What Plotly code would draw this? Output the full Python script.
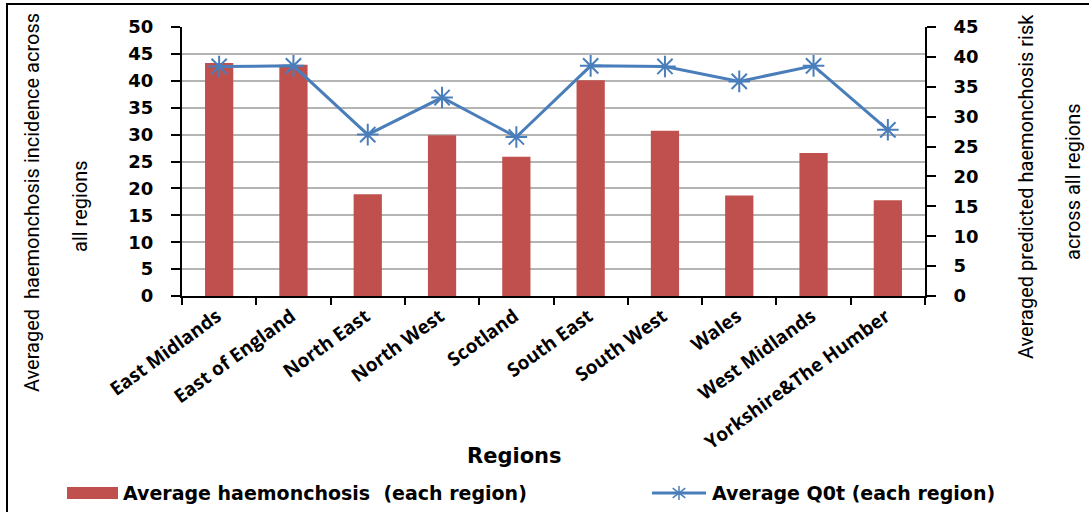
import plotly.graph_objects as go

# Regions and the two averaged series
regions = ["East Midlands", "East of England", "North East", "North West", "Scotland",
           "South East", "South West", "Wales", "West Midlands", "Yorkshire&The Humber"]
haemonchosis = [43.3, 43.0, 18.9, 29.9, 25.9, 40.1, 30.7, 18.7, 26.6, 17.8]
q0t_risk = [38.4, 38.5, 27.0, 33.2, 26.6, 38.5, 38.4, 35.9, 38.5, 27.8]

left_ticks = list(range(0, 51, 5))
right_ticks = list(range(0, 46, 5))

BAR_COLOR = "#C0504D"
LINE_COLOR = "#4A7EBB"

W_PX, H_PX = 1089, 512
L, R, T, B = 182, 925, 27, 296


def px(x):
    return (x - L) / (R - L)


def py(y):
    return (B - y) / (B - T)


fig = go.Figure()
fig.add_trace(go.Bar(
    x=regions, y=haemonchosis, marker=dict(color=BAR_COLOR, line=dict(width=0)),
    name="Average haemonchosis  (each region)", showlegend=False))
fig.add_trace(go.Scatter(
    x=regions, y=q0t_risk, yaxis="y2", mode="lines+markers",
    line=dict(color=LINE_COLOR, width=3),
    marker=dict(symbol="asterisk-open", size=18, line=dict(color=LINE_COLOR, width=2)),
    name="Average Q0t (each region)", showlegend=False))

tick_font = dict(family="DejaVu Sans", size=18, color="black", weight="bold")

fig.update_layout(
    width=W_PX, height=H_PX,
    margin=dict(l=L, r=W_PX - R, t=T, b=H_PX - B, pad=0),
    paper_bgcolor="white", plot_bgcolor="white",
    bargap=0.62,
    xaxis=dict(
        type="category", range=[-0.5, len(regions) - 0.5],
        showline=True, linecolor="black", linewidth=2,
        ticks="outside", tickson="boundaries", ticklen=7, tickwidth=2, tickcolor="black",
        tickangle=-36, ticklabelshift=-2,
        tickfont=dict(family="Open Sans", size=19, color="black", weight="bold"),
        showgrid=False),
    yaxis=dict(
        range=[0, 50], tickvals=left_ticks, showline=True, linecolor="black", linewidth=2,
        ticks="outside", ticklen=9, tickwidth=2, tickcolor="black",
        tickfont=tick_font, ticklabelstandoff=14,
        showgrid=True, gridcolor="#B4B4B4", gridwidth=1.5, zeroline=False),
    yaxis2=dict(
        range=[0, 45], tickvals=right_ticks, overlaying="y", side="right",
        showline=True, linecolor="black", linewidth=2,
        ticks="outside", ticklen=9, tickwidth=2, tickcolor="black",
        tickfont=tick_font, ticklabelstandoff=14,
        showgrid=False, zeroline=False),
)

title_font = dict(family="Roboto", size=20, color="black")
annots = [
    dict(text="Averaged  haemonchosis incidence across", x=px(32), y=py(203), textangle=-90),
    dict(text="all regions", x=px(80), y=py(206), textangle=-90),
    dict(text="Averaged predicted haemonchosis risk", x=px(1026), y=py(187), textangle=-90),
    dict(text="across all regions", x=px(1073), y=py(182), textangle=-90),
]
for a in annots:
    fig.add_annotation(xref="paper", yref="paper", showarrow=False,
                       xanchor="center", yanchor="middle", font=title_font, **a)

fig.add_annotation(text="Regions", xref="paper", yref="paper", x=px(514), y=py(456),
                   showarrow=False, xanchor="center", yanchor="middle",
                   font=dict(family="DejaVu Sans", size=21, color="black", weight="bold"))

# Legend drawn below the axis title
legend_font = dict(family="DejaVu Sans", size=19, color="black", weight="bold")
fig.add_shape(type="rect", xref="paper", yref="paper",
              x0=px(67), x1=px(118), y0=py(499), y1=py(487),
              fillcolor=BAR_COLOR, line=dict(width=0))
fig.add_annotation(text="Average haemonchosis  (each region)", xref="paper", yref="paper",
                   x=px(121), y=py(493), showarrow=False, xanchor="left", yanchor="middle",
                   font=legend_font)
fig.add_shape(type="line", xref="paper", yref="paper",
              x0=px(652), x1=px(706), y0=py(493), y1=py(493),
              line=dict(color=LINE_COLOR, width=3))
cx, cy, hx, hy = 679, 493, 9, 7
star = (f"M {px(cx - hx)},{py(cy)} L {px(cx + hx)},{py(cy)} "
        f"M {px(cx)},{py(cy - hy)} L {px(cx)},{py(cy + hy)} "
        f"M {px(cx - hx * 0.7)},{py(cy - hy * 0.7)} L {px(cx + hx * 0.7)},{py(cy + hy * 0.7)} "
        f"M {px(cx - hx * 0.7)},{py(cy + hy * 0.7)} L {px(cx + hx * 0.7)},{py(cy - hy * 0.7)}")
fig.add_shape(type="path", xref="paper", yref="paper", path=star,
              line=dict(color=LINE_COLOR, width=1.5))
fig.add_annotation(text="Average Q0t (each region)", xref="paper", yref="paper",
                   x=px(710), y=py(493), showarrow=False, xanchor="left", yanchor="middle",
                   font=legend_font)

# Outer frame of the chart area
fig.add_shape(type="rect", xref="paper", yref="paper",
              x0=px(7), x1=px(1100), y0=py(4), y1=py(530),
              line=dict(color="black", width=2), fillcolor="rgba(0,0,0,0)", layer="below")

fig.write_html("out.html")
